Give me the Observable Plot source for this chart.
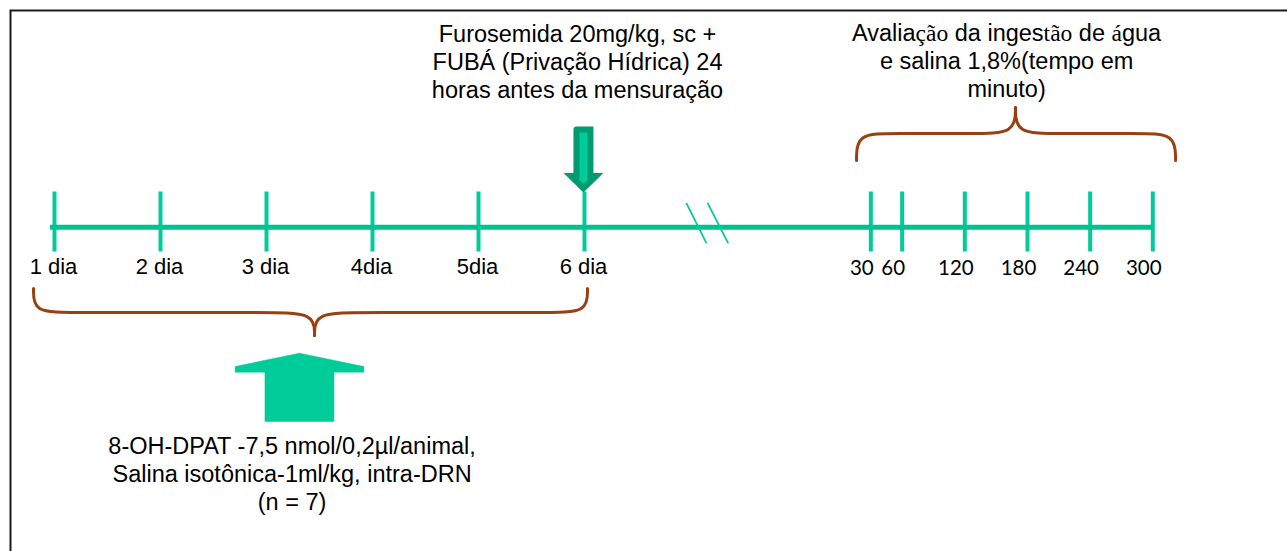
<!DOCTYPE html>
<html>
<head>
<meta charset="utf-8">
<script src="https://cdn.jsdelivr.net/npm/d3@7"></script>
<script src="https://cdn.jsdelivr.net/npm/@observablehq/plot@0.6"></script>
<style>
  html, body { margin: 0; padding: 0; background: #fff; overflow: hidden; }
  #chart { width: 1287px; height: 551px; overflow: hidden; position: relative; background: #fff; }
</style>
</head>
<body>
<div id="chart"></div>
<script>
// ---- data -------------------------------------------------------------
const days = [1, 2, 3, 4, 5, 6];
const dayLabels = ["1 dia", "2 dia", "3 dia", "4dia", "5dia", "6 dia"];
const minutes = [30, 60, 120, 180, 240, 300];
const minuteLabels = ["30", "60", "120", "180", "240", "300"];
const furosemidaLines = ["Furosemida 20mg/kg, sc +", "FUBÁ (Privação Hídrica) 24", "horas antes da mensuração"];
const avaliacaoLines = ["Avaliação da ingestão de água", "e salina 1,8%(tempo em", "minuto)"];
const tratamentoLines = ["8-OH-DPAT -7,5 nmol/0,2µl/animal,", "Salina isotônica-1ml/kg, intra-DRN", "(n = 7)"];

// ---- time axis: minutes since start of day 1, with a break before the session
const MIN_PER_DAY = 1440;
const dayT = d => (d - 1) * MIN_PER_DAY;
const minT = m => 6 * MIN_PER_DAY + m; // measurement session (24 h after day 6)

// ---- styles
const GREEN = "#00cc99";
const LINE_GREEN = "#00c290";
const DARK_GREEN = "#009b70";
const BROWN = "#98400f";
const SANS = "'Liberation Sans', Arial, sans-serif";
const NUM = "Lato, 'Open Sans', sans-serif";

// brace as two halves (control polygons for a basis curve)
function brace(a, tip, b, ra, rt, yEnd, yFlat, yTip) {
  return [
    [a, yEnd], [a, yFlat], [a + ra, yFlat], [tip - rt, yFlat], [tip, yFlat], [tip, yTip]
  ].map(([x, y]) => ({x, y, h: "a"})).concat([
    [tip, yTip], [tip, yFlat], [tip + rt, yFlat], [b - ra, yFlat], [b, yFlat], [b, yEnd]
  ].map(([x, y]) => ({x, y, h: "b"})));
}
const leftBrace = brace(dayT(0.802), dayT(3.453), dayT(6.028), 0.35 * MIN_PER_DAY, 0.45 * MIN_PER_DAY, 288, 312, 335);
const rightBrace = brace(minT(16.3), minT(168.5), minT(321.8), 36, 40, 160, 133, 107);

// fat up arrow (treatment) and outlined down arrow (furosemide)
function upArrow(c, hw, sw, yTip, yShoulder, yBase, yBottom) {
  return [[c, yTip], [c + hw, yShoulder], [c + hw, yBase], [c + sw, yBase], [c + sw, yBottom],
          [c - sw, yBottom], [c - sw, yBase], [c - hw, yBase], [c - hw, yShoulder], [c, yTip]]
    .map(([x, y]) => ({x, y}));
}
function downArrow(c, hw, sw, yTop, yBase, yTip) {
  return [[c - sw, yTop], [c + sw, yTop], [c + sw, yBase], [c + hw, yBase], [c, yTip],
          [c - hw, yBase], [c - sw, yBase], [c - sw, yTop]]
    .map(([x, y]) => ({x, y}));
}
const treatArrow = upArrow(dayT(3.311), 0.607 * MIN_PER_DAY, 0.3255 * MIN_PER_DAY, 352.7, 366, 371.7, 421);
const furoArrow = downArrow(dayT(5.99), 0.118 * MIN_PER_DAY, 0.066 * MIN_PER_DAY, 129, 175.5, 187.7);

const breakMarks = [{x1: 7948, x2: 8039}, {x1: 8044, x2: 8137}];

const plot = Plot.plot({
  width: 1287,
  height: 551,
  margin: 0,
  style: {background: "#fff", color: "#000"},
  x: {type: "linear", domain: [dayT(1), dayT(6.3), minT(0), minT(300)], range: [54, 615.8, 839, 1152.3], axis: null},
  y: {domain: [0, 551], range: [0, 551], axis: null},
  marks: [
    Plot.frame({insetLeft: 10, insetTop: 10, insetRight: -10, insetBottom: -10, stroke: "#1a1a1a", strokeWidth: 2}),
    // ticks
    Plot.ruleX(days, {x: d => dayT(d), y1: 191.5, y2: 251.5, stroke: GREEN, strokeWidth: 4}),
    Plot.ruleX(minutes, {x: m => minT(m), y1: 191.5, y2: 251.5, stroke: GREEN, strokeWidth: 4}),
    // main time line
    Plot.ruleY([226.8], {x1: dayT(days[0]), x2: minT(minutes[minutes.length - 1]), insetLeft: -4, stroke: LINE_GREEN, strokeWidth: 5}),
    // axis break
    Plot.link(breakMarks, {x1: "x1", x2: "x2", y1: 202.3, y2: 242.7, stroke: GREEN, strokeWidth: 1.8}),
    // tick labels
    Plot.text(days, {x: d => dayT(d), y: 273, text: (d, i) => dayLabels[i], dx: -1, lineAnchor: "bottom",
      fontSize: 22, fontFamily: SANS, fill: "#000"}),
    Plot.text(minutes, {x: m => minT(m), y: 274.5, text: (d, i) => minuteLabels[i], dx: -9, lineAnchor: "bottom",
      fontSize: 20.5, fontFamily: NUM, fill: "#000"}),
    // braces
    Plot.line(leftBrace, {x: "x", y: "y", z: "h", curve: "basis", stroke: BROWN, strokeWidth: 3}),
    Plot.line(rightBrace, {x: "x", y: "y", z: "h", curve: "basis", stroke: BROWN, strokeWidth: 3}),
    // arrows
    Plot.line(treatArrow, {x: "x", y: "y", fill: GREEN, stroke: GREEN, strokeWidth: 0.5}),
    Plot.line(furoArrow, {x: "x", y: "y", fill: GREEN, stroke: DARK_GREEN, strokeWidth: 6, strokeLinejoin: "miter", strokeMiterlimit: 10}),
    // annotations
    Plot.text([furosemidaLines.join("\n")], {x: dayT(5.934), y: 97.3, text: d => d, lineAnchor: "bottom",
      lineHeight: 28 / 23.5, fontSize: 23.5, fontFamily: SANS, fill: "#000"}),
    Plot.text([avaliacaoLines.join("\n")], {x: minT(160), y: 96.5, text: d => d, lineAnchor: "bottom",
      lineHeight: 28 / 23.5, fontSize: 23.5, fontFamily: SANS, fill: "#000"}),
    Plot.text([tratamentoLines.join("\n")], {x: dayT(3.241), y: 509.5, text: d => d, lineAnchor: "bottom",
      lineHeight: 28 / 23.5, fontSize: 23.5, fontFamily: SANS, fill: "#000"})
  ]
});

document.getElementById("chart").appendChild(plot);

// the original mixes a serif face into a few syllables of the first line
const serif = s => `<tspan font-family="'Liberation Serif', 'Times New Roman', serif">${s}</tspan>`;
plot.querySelectorAll("tspan").forEach(t => {
  if (t.textContent === avaliacaoLines[0]) {
    t.innerHTML = "Avalia" + serif("ção") + " da inges" + serif("tão") + " de " + serif("á") + "gua";
  }
});
</script>
</body>
</html>
